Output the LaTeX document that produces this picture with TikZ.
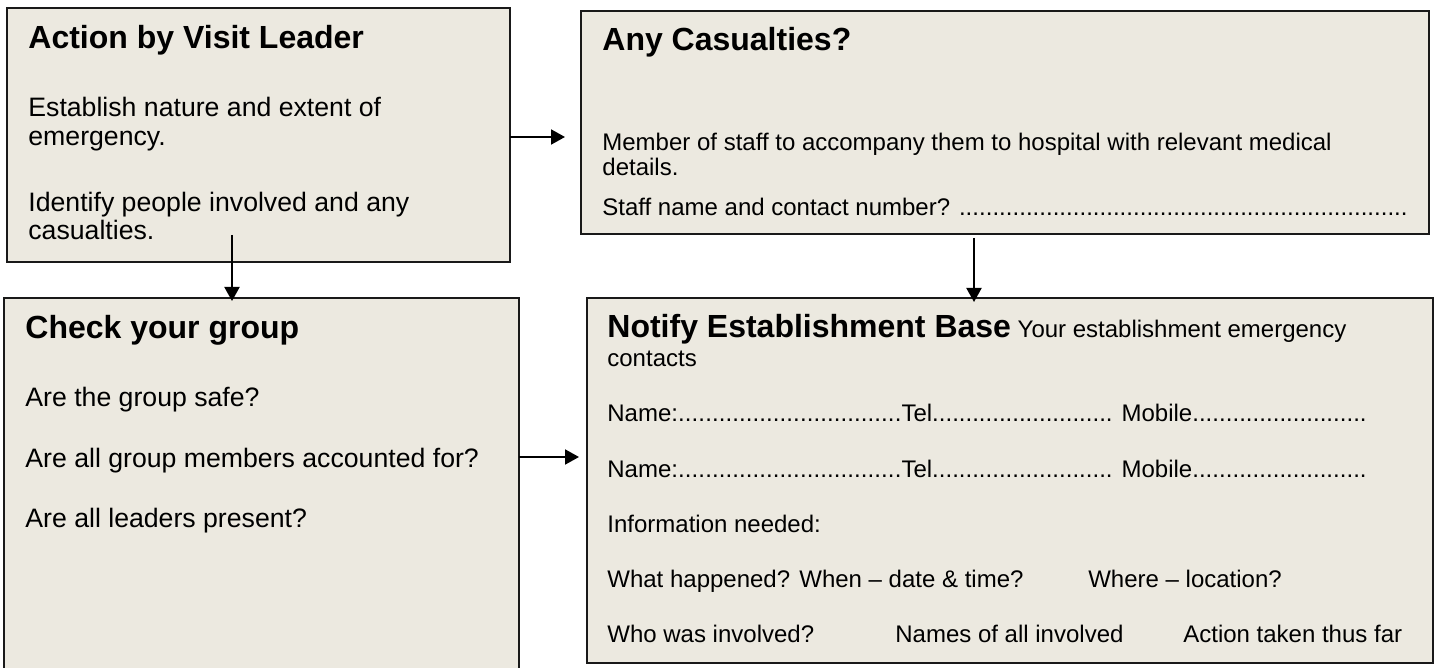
\documentclass[tikz,border=0pt]{standalone}
\usepackage{fontspec}
\setmainfont{Liberation Sans}
\usetikzlibrary{arrows.meta}
\definecolor{panelfill}{RGB}{236,233,224}
\newcommand{\dotcell}[2]{\hbox to #1{#2\xleaders\hbox{.}\hfill}}
\newcommand{\headfont}{\fontsize{16}{19}\selectfont\bfseries}
\newcommand{\bigbody}{\fontsize{13.33}{16}\selectfont}
\newcommand{\smallbody}{\fontsize{12}{14}\selectfont}

\begin{document}
\begin{tikzpicture}[x=.5pt, y=-.5pt,
    panel/.style={draw=black!90, line width=1pt, fill=panelfill, anchor=north west,
      inner sep=0pt, outer sep=0pt},
    txt/.style={anchor=base west, inner sep=0pt},
    flow/.style={line width=1pt, -{Triangle[length=7pt,width=7.5pt]}}]
  \useasboundingbox (0,0) rectangle (1436,668);
  \clip (0,0) rectangle (1436,668);
  % the four panels
  \node[panel, minimum width=251.5pt, minimum height=127pt] (actbox) at (7,8) {};
  \node[panel, minimum width=424pt, minimum height=111.5pt] (casbox) at (581,11) {};
  \node[panel, minimum width=257.5pt, minimum height=191pt] (chkbox) at (4,298) {};
  \node[panel, minimum width=423pt, minimum height=182.5pt] (notebox) at (587,298) {};
  % action by visit leader
  \node[txt] (acthead) at (28,49) {\headfont Action by Visit Leader};
  \node[txt] (act1) at (28,117) {\bigbody Establish nature and extent of};
  \node[txt] (act2) at (28,146) {\bigbody emergency.};
  \node[txt] (act3) at (28,212) {\bigbody Identify people involved and any};
  \node[txt] (act4) at (28,240) {\bigbody casualties.};
  % casualties
  \node[txt] (cashead) at (602,51) {\headfont Any Casualties?};
  \node[txt] (cas1) at (602,151) {\smallbody Member of staff to accompany them to hospital with relevant medical};
  \node[txt] (cas2) at (602,176) {\smallbody details.};
  \node[txt] (cas3) at (602,216) {\smallbody\dotcell{402.5pt}{Staff name and contact number? }};
  % check your group
  \node[txt] (chkhead) at (25,339) {\headfont Check your group};
  \node[txt] (chk1) at (25,407) {\bigbody Are the group safe?};
  \node[txt] (chk2) at (25,467) {\bigbody Are all group members accounted for?};
  \node[txt] (chk3) at (25,527) {\bigbody Are all leaders present?};
  % notify establishment base
  \node[txt] (notehead) at (607,338) {{\headfont Notify Establishment Base}\smallbody\ Your establishment emergency};
  \node[txt] (notecont) at (607,367) {\smallbody contacts};
  \node[txt] (name1) at (607,422) {\smallbody\dotcell{147pt}{Name:}\dotcell{105.5pt}{Tel}\hspace{4.5pt}\dotcell{122.5pt}{Mobile}};
  \node[txt] (name2) at (607,477) {\smallbody\dotcell{147pt}{Name:}\dotcell{105.5pt}{Tel}\hspace{4.5pt}\dotcell{122.5pt}{Mobile}};
  \node[txt] (info) at (607,532) {\smallbody Information needed:};
  \node[txt] (what) at (607,587) {\smallbody\makebox[96pt][l]{What happened?}\makebox[144.5pt][l]{When – date \& time?}Where – location?};
  \node[txt] (who) at (607,642) {\smallbody\makebox[144pt][l]{Who was involved?}\makebox[144pt][l]{Names of all involved}Action taken thus far};
  % connectors
  \coordinate (ab) at (565,137);
  \coordinate (ac) at (232,235);
  \coordinate (bd) at (974,238);
  \coordinate (cd) at (579,457);
  \draw[flow] (actbox.east |- ab) -- (ab);
  \draw[flow] (ac) -- ([yshift=-1.5pt]ac |- chkbox.north);
  \draw[flow] (bd) -- ([yshift=-2pt]bd |- notebox.north);
  \draw[flow] (chkbox.east |- cd) -- (cd);
\end{tikzpicture}
\end{document}
